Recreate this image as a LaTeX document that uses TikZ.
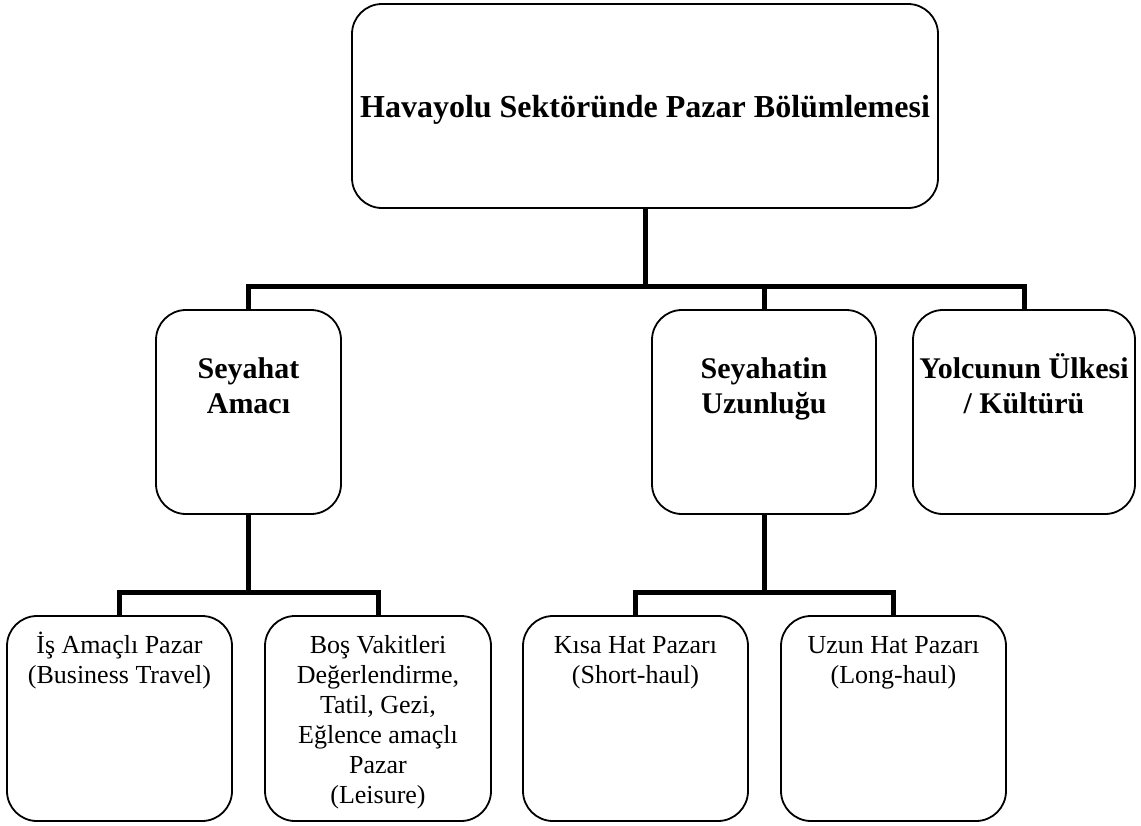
\documentclass[tikz,border=0pt]{standalone}
\usepackage{fontspec}
\setmainfont{Liberation Serif}
\begin{document}
\begin{tikzpicture}[x=1pt,y=-1pt,
  box/.style={draw=black,line width=1.8pt,rounded corners=30pt,rectangle,inner sep=0pt,fill=white},
  conn/.style={draw=black,line width=5pt,line join=miter},
  ttop/.style={font=\fontsize{32}{37}\selectfont\bfseries,anchor=base,inner sep=0pt},
  tmid/.style={font=\fontsize{30}{35}\selectfont\bfseries,align=center,anchor=base,inner sep=0pt},
  tbot/.style={font=\fontsize{26}{30}\selectfont,align=center,anchor=base,inner sep=0pt}]
\useasboundingbox[fill=white] (0,0) rectangle (1141,825);
% boxes
\node[box,minimum width=586pt,minimum height=204pt] (top) at (645,106) {};
\node[box,minimum width=185pt,minimum height=204pt] (A) at (248.5,412) {};
\node[box,minimum width=224pt,minimum height=204pt] (B) at (764,412) {};
\node[box,minimum width=222pt,minimum height=204pt] (C) at (1024,412) {};
\node[box,minimum width=225pt,minimum height=205pt] (D) at (119.5,718.5) {};
\node[box,minimum width=226pt,minimum height=205pt] (E) at (378,718.5) {};
\node[box,minimum width=225pt,minimum height=205pt] (F) at (635.5,718.5) {};
\node[box,minimum width=225pt,minimum height=205pt] (G) at (893.5,718.5) {};
% texts (anchor=base is the baseline of the last line)
\node[ttop] (ttopl) at (645,117) {Havayolu Sektöründe Pazar Bölümlemesi};
\node[tmid] (tA) at (248.5,413) {Seyahat\\Amacı};
\node[tmid] (tB) at (764,413) {Seyahatin\\Uzunluğu};
\node[tmid] (tC) at (1024,413) {Yolcunun Ülkesi\\/ Kültürü};
\node[tbot] (tD) at (119.5,683) {İş Amaçlı Pazar\\(Business Travel)};
\node[tbot] (tE) at (378,803) {Boş Vakitleri\\Değerlendirme,\\Tatil, Gezi,\\Eğlence amaçlı\\Pazar\\(Leisure)};
\node[tbot] (tF) at (635.5,683) {Kısa Hat Pazarı\\(Short-haul)};
\node[tbot] (tG) at (893.5,683) {Uzun Hat Pazarı\\(Long-haul)};
% junctions
\coordinate (j1) at (645,286);
\coordinate (j2) at (248.5,592.5);
\coordinate (j3) at (764,592.5);
% connectors
\draw[conn] (top.south) -- (j1);
\draw[conn] (A.north) |- (C.north |- j1) -- (C.north);
\draw[conn] (B.north) -- (B.north |- j1);
\draw[conn] (A.south) -- (j2);
\draw[conn] (D.north) |- (E.north |- j2) -- (E.north);
\draw[conn] (B.south) -- (j3);
\draw[conn] (F.north) |- (G.north |- j3) -- (G.north);
\end{tikzpicture}
\end{document}
